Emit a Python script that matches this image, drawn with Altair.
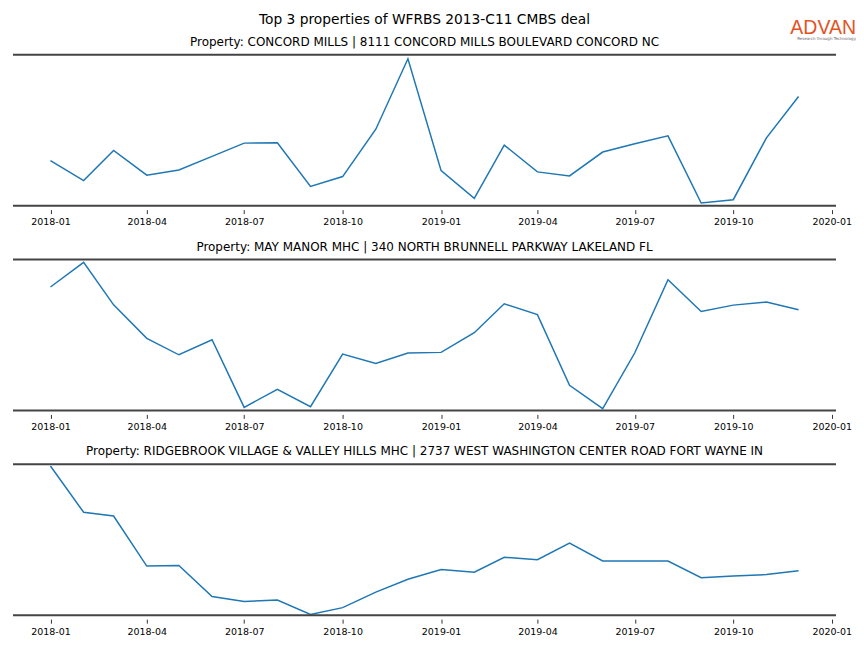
import altair as alt
import pandas as pd

months = pd.date_range("2018-01-01", "2019-12-01", freq="MS").strftime("%Y-%m-%d").tolist()

main_title = "Top 3 properties of WFRBS 2013-C11 CMBS deal"
titles = [
    "Property: CONCORD MILLS | 8111 CONCORD MILLS BOULEVARD CONCORD NC",
    "Property: MAY MANOR MHC | 340 NORTH BRUNNELL PARKWAY LAKELAND FL",
    "Property: RIDGEBROOK VILLAGE & VALLEY HILLS MHC | 2737 WEST WASHINGTON CENTER ROAD FORT WAYNE IN",
]
logo_text = "ADVAN"
logo_sub = "Research through Technology"

concord = [45.3, 25.3, 55.7, 30.7, 36.0, 49.7, 63.0, 63.3, 19.3, 29.3, 77.0, 148.0,
           35.3, 7.3, 61.0, 34.0, 30.0, 54.0, 62.3, 70.3, 2.7, 6.0, 68.3, 110.0]
may_manor = [122.7, 147.3, 105.0, 71.7, 55.3, 70.3, 3.0, 21.0, 3.7, 56.0, 46.7, 57.0,
             57.7, 77.3, 106.0, 95.3, 25.0, 1.7, 57.3, 130.0, 98.3, 104.7, 107.7, 100.0]
ridgebrook = [147.0, 101.4, 97.7, 48.4, 49.0, 18.4, 13.4, 15.0, 0.7, 7.4, 22.7, 35.4,
              45.0, 42.4, 57.0, 54.7, 71.0, 53.4, 53.4, 53.4, 37.0, 38.7, 40.0, 43.7]

series = [concord, may_manor, ridgebrook]
y_domains = [[0, 152], [0, 150], [0, 148.7]]

tick_values = [alt.DateTime(year=y, month=m, date=1, utc=True)
               for y, m in [(2018, 1), (2018, 4), (2018, 7), (2018, 10), (2019, 1),
                            (2019, 4), (2019, 7), (2019, 10), (2020, 1)]]

W, H = 824, 151
FONT = "DejaVu Sans"


def text_layer(txt, x, y, size, color="#000", align="center", baseline="middle",
               font=FONT, weight="normal"):
    return alt.Chart(pd.DataFrame({"t": [txt]})).mark_text(
        font=font, fontSize=size, color=color, align=align, baseline=baseline,
        fontWeight=weight,
    ).encode(text="t:N", x=alt.value(x), y=alt.value(y))


def panel(title, vals, ydom, header=False):
    df = pd.DataFrame({"date": months, "value": vals})
    base = alt.Chart(df)
    line = base.mark_line(color="#1f77b4", strokeWidth=1.5).encode(
        x=alt.X("date:T",
                scale=alt.Scale(type="utc",
                                domain=[alt.DateTime(year=2017, month=11, date=27, utc=True),
                                        alt.DateTime(year=2020, month=1, date=5, utc=True)]),
                axis=alt.Axis(values=tick_values,
                              labelExpr="utcFormat(datum.value, '%Y-%m')",
                              title=None, domain=False, grid=False, offset=4,
                              tickSize=4, tickColor="#333", labelFontSize=9.5,
                              labelFont=FONT, labelColor="#000", labelPadding=3)),
        y=alt.Y("value:Q", scale=alt.Scale(domain=ydom, nice=False, zero=False), axis=None),
    )
    frame = alt.Chart(pd.DataFrame({"p": [0, H]})).mark_rule(color="#444", strokeWidth=2).encode(
        x=alt.value(0), x2=alt.value(W), y=alt.Y("p:Q", scale=None))
    layers = [line, frame, text_layer(title, W / 2, -13, 12)]
    if header:
        layers += [
            text_layer(main_title, W / 2, -35, 13.8),
            text_layer(logo_text, 844, -21, 19.5, color="#e4521f", align="right",
                       baseline="alphabetic", font="Liberation Sans"),
            text_layer(logo_sub, 844, -15, 4, color="#666", align="right",
                       baseline="alphabetic"),
        ]
    return alt.layer(*layers).properties(width=W, height=H)


charts = [panel(t, v, d, header=(i == 0))
          for i, (t, v, d) in enumerate(zip(titles, series, y_domains))]

chart = alt.vconcat(*charts, spacing=54, bounds="flush").properties(
    padding={"left": 4, "top": 4.5, "right": 0, "bottom": 0},
).configure_view(stroke=None)

chart.save("out.html", embed_options={"renderer": "svg", "actions": False})
